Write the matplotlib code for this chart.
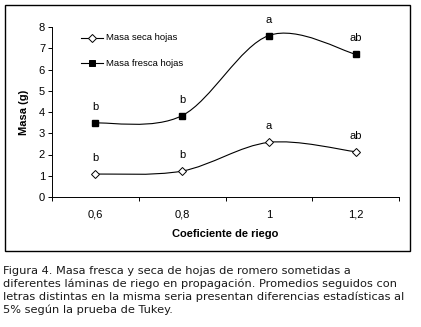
import numpy as np
import matplotlib.pyplot as plt
from matplotlib.path import Path
from matplotlib.patches import PathPatch, Rectangle

# data
categorias = ["0,6", "0,8", "1", "1,2"]
masa_seca = [1.08, 1.22, 2.57, 2.13]
masa_fresca = [3.48, 3.83, 7.60, 6.72]
letras_seca = ["b", "b", "a", "ab"]
letras_fresca = ["b", "b", "a", "ab"]

caption = ("Figura 4. Masa fresca y seca de hojas de romero sometidas a\n"
           "diferentes láminas de riego en propagación. Promedios seguidos con\n"
           "letras distintas en la misma seria presentan diferencias estadísticas al\n"
           "5% según la prueba de Tukey.")

plt.rcParams["font.family"] = ["Liberation Sans", "DejaVu Sans"]

fig = plt.figure(figsize=(4.21, 3.27), dpi=100)
ax = fig.add_axes([52 / 421, 1 - 197 / 327, 347 / 421, 170 / 327])


def smooth_path(xs, ys):
    # Catmull-Rom style smoothing like Excel's "smoothed line"
    pts = np.column_stack([xs, ys]).astype(float)
    verts = [pts[0]]
    codes = [Path.MOVETO]
    n = len(pts)
    for i in range(n - 1):
        p0 = pts[max(i - 1, 0)]
        p1 = pts[i]
        p2 = pts[i + 1]
        p3 = pts[min(i + 2, n - 1)]
        c1 = p1 + (p2 - p0) / 6
        c2 = p2 - (p3 - p1) / 6
        verts += [c1, c2, p2]
        codes += [Path.CURVE4] * 3
    return Path(verts, codes)


x = np.arange(len(categorias))
for ys in (masa_seca, masa_fresca):
    ax.add_patch(PathPatch(smooth_path(x, ys), facecolor="none",
                           edgecolor="black", lw=0.8, zorder=2))

ax.plot(x, masa_seca, ls="none", marker="D", ms=4, mfc="white", mec="black",
        mew=0.7, zorder=3)
ax.plot(x, masa_fresca, ls="none", marker="s", ms=4.5, mfc="black", mec="black",
        zorder=3)

for xi, yi, t in zip(x, masa_seca, letras_seca):
    ax.annotate(t, (xi, yi), xytext=(0, 11.5), textcoords="offset points",
                ha="center", va="center", fontsize=8)
for xi, yi, t in zip(x, masa_fresca, letras_fresca):
    ax.annotate(t, (xi, yi), xytext=(0, 11.5), textcoords="offset points",
                ha="center", va="center", fontsize=8)

# legend drawn by hand to mimic the Excel layout
for yy, mk, fc, lab in [(38, "D", "white", "Masa seca hojas"),
                        (63, "s", "black", "Masa fresca hojas")]:
    ya = 1 - (yy - 27) / 170
    ax.plot([0.085, 0.148], [ya, ya], color="black", lw=0.8,
            transform=ax.transAxes, clip_on=False)
    ax.plot([0.1165], [ya], marker=mk, ms=4, mfc=fc,
            mec="black", mew=0.7, transform=ax.transAxes, clip_on=False)
    ax.text(0.157, ya, lab, transform=ax.transAxes,
            ha="left", va="center", fontsize=6.8)

ax.set_xlim(-0.5, 3.5)
ax.set_ylim(0, 8)
ax.set_yticks(range(0, 9))
ax.set_xticks(x)
ax.set_xticklabels(categorias)
ax.set_xticks(np.arange(-0.5, 4, 1), minor=True)
ax.tick_params(axis="x", which="major", length=0, pad=9, labelsize=8)
ax.tick_params(axis="x", which="minor", length=3, width=0.7, direction="out")
ax.tick_params(axis="y", length=3, width=0.7, direction="out", labelsize=8, pad=2)
for s in ("top", "right"):
    ax.spines[s].set_visible(False)
for s in ("left", "bottom"):
    ax.spines[s].set_linewidth(0.7)

ax.set_ylabel("Masa (g)", fontsize=8, fontweight="bold", labelpad=7)
ax.set_xlabel("Coeficiente de riego", fontsize=8, fontweight="bold", labelpad=7)

# outer chart border
fig.add_artist(Rectangle((5 / 421, 1 - 251 / 327), 405 / 421, 246 / 327,
                         transform=fig.transFigure, fill=False,
                         edgecolor="black", lw=1))

fig.text(3 / 421, 1 - 266 / 327, caption, ha="left", va="top", fontsize=8.2,
         family=["DejaVu Sans"], linespacing=1.3, color="#1a1a1a")

fig.savefig("out.png", dpi=100)
